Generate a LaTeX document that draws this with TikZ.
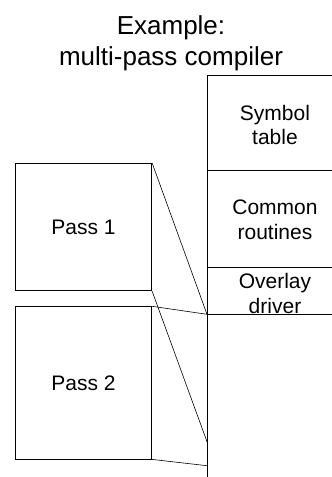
\documentclass[tikz,border=0pt]{standalone}
\usepackage{fontspec}
\setmainfont{Liberation Sans}
\begin{document}
\begin{tikzpicture}[x=1pt,y=-1pt,
  line width=0.8pt,
  passbox/.style={draw, rectangle, inner sep=0pt, minimum width=136.4pt},
  lbl/.style={align=center, font=\fontsize{21}{24.5}\selectfont},
  title/.style={align=center, font=\fontsize{26}{31}\selectfont}]
\useasboundingbox (0,0) rectangle (332,477);

% heading
\node[title] (ttl) at (171,43) {Example:\\multi-pass compiler};

% memory column: left wall and region boundaries
\coordinate (mtop) at (207,75);
\coordinate (mbot) at (207,477);
\coordinate (mst) at (207,170.7);
\coordinate (mcr) at (207,267.3);
\coordinate (mov) at (207,314.3);
\coordinate (mp1) at (207,441.7);
\coordinate (mp2) at (207,465.7);
\draw (mtop) -- (mbot);
\draw (mtop) -- (332,75);
\draw (mst) -- (332,170.7);
\draw (mcr) -- (332,267.3);
\draw (mov) -- (332,314.3);

\node[lbl] (sym) at (275,125) {Symbol\\table};
\node[lbl] (com) at (275,220) {Common\\routines};
\node[lbl] (ovl) at (275,293.5) {Overlay\\driver};

% overlay passes
\node[passbox, minimum height=127.4pt] (p1) at (83.5,227) {};
\node[lbl] (p1t) at (p1.center) {Pass 1};
\node[passbox, minimum height=152.3pt] (p2) at (83.5,382.85) {};
\node[lbl] (p2t) at (p2.center) {Pass 2};

% projections of each pass onto the overlay area
\draw[line width=0.6pt] (p1.north east) -- (mov);
\draw[line width=0.6pt] (p1.south east) -- (mp1);
\draw[line width=0.6pt] (p2.north east) -- (mov);
\draw[line width=0.6pt] (p2.south east) -- (mp2);
\end{tikzpicture}
\end{document}
